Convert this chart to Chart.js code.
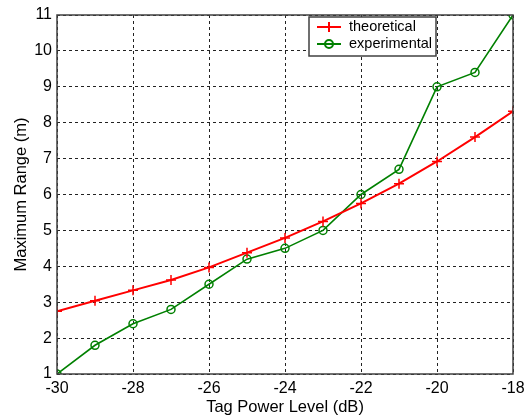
<!DOCTYPE html>
<html>
<head>
<meta charset="utf-8">
<script src="https://cdn.jsdelivr.net/npm/chart.js@4/dist/chart.umd.min.js"></script>
<style>
  html, body { margin: 0; padding: 0; background: #ffffff; }
  #wrap { width: 525px; height: 418px; }
</style>
</head>
<body>
<div id="wrap"><canvas id="rangeChart" width="525" height="418"></canvas></div>
<script>
// tag power level (dB)
var powerLevels = [-30, -29, -28, -27, -26, -25, -24, -23, -22, -21, -20, -19, -18];
var theoretical = [2.75, 3.04, 3.33, 3.62, 3.97, 4.38, 4.79, 5.25, 5.75, 6.3, 6.92, 7.6, 8.32];
var experimental = [1, 1.8, 2.4, 2.8, 3.5, 4.2, 4.5, 5, 6, 6.7, 9, 9.4, 11];
var xTicks = [-30, -28, -26, -24, -22, -20, -18];
var yTicks = [1, 2, 3, 4, 5, 6, 7, 8, 9, 10, 11];

function toPoints(xs, ys) {
    return xs.map(function(x, i) { return {x: x, y: ys[i]}; });
}

// matlab style box round the plot + legend in the corner
var boxPlugin = {
    id: 'boxPlugin',
    afterDatasetsDraw: function(chart) {
        var a = chart.chartArea, ctx = chart.ctx;
        ctx.save();
        ctx.strokeStyle = '#404040';
        ctx.lineWidth = 1.5;
        ctx.strokeRect(a.left, a.top, a.right - a.left, a.bottom - a.top);

        // legend
        var lx = 309, ly = 17, lw = 127, lh = 39;
        ctx.fillStyle = '#ffffff';
        ctx.fillRect(lx, ly, lw, lh);
        ctx.strokeStyle = '#404040';
        ctx.lineWidth = 1.5;
        ctx.strokeRect(lx, ly, lw, lh);
        ctx.font = '14.5px "Liberation Sans", Arial, sans-serif';
        ctx.textBaseline = 'middle';
        var rows = [
            {label: 'theoretical', color: '#ff0000', marker: 'cross'},
            {label: 'experimental', color: '#008000', marker: 'circle'}
        ];
        rows.forEach(function(r, i) {
            var cy = ly + 10 + i * 17;
            ctx.strokeStyle = r.color;
            ctx.lineWidth = 2;
            ctx.beginPath();
            ctx.moveTo(lx + 8, cy);
            ctx.lineTo(lx + 32, cy);
            ctx.stroke();
            ctx.beginPath();
            if (r.marker === 'cross') {
                ctx.moveTo(lx + 20, cy - 5); ctx.lineTo(lx + 20, cy + 5);
            } else {
                ctx.arc(lx + 20, cy, 4, 0, Math.PI * 2);
            }
            ctx.stroke();
            ctx.fillStyle = '#000000';
            ctx.fillText(r.label, lx + 40, cy);
        });
        ctx.restore();
    }
};

var ctx1 = document.getElementById('rangeChart').getContext('2d');
var myChart1 = new Chart(ctx1, {
    type: 'line',
    data: {
        datasets: [{
            label: 'theoretical',
            data: toPoints(powerLevels, theoretical),
            borderColor: '#ff0000',
            backgroundColor: '#ff0000',
            borderWidth: 2,
            pointStyle: 'cross',
            pointRadius: 5,
            pointBorderWidth: 1.5,
            tension: 0
        }, {
            label: 'experimental',
            data: toPoints(powerLevels, experimental),
            borderColor: '#008000',
            backgroundColor: 'rgba(0,0,0,0)',
            borderWidth: 1.6,
            pointStyle: 'circle',
            pointRadius: 4,
            pointBorderWidth: 1.5,
            tension: 0
        }]
    },
    options: {
        responsive: false,
        animation: false,
        layout: {
            padding: {left: 12, right: 12, top: 15, bottom: 1}
        },
        scales: {
            x: {
                type: 'linear',
                min: -30,
                max: -18,
                afterBuildTicks: function(s) { s.ticks = xTicks.map(function(v) { return {value: v}; }); },
                afterFit: function(s) { s.height = 43; s.paddingLeft = 0; s.paddingRight = 0; },
                grid: {
                    color: '#222222',
                    lineWidth: 1,
                    drawTicks: false
                },
                border: { display: false, dash: [3, 3] },
                ticks: {
                    color: '#000000',
                    padding: 5,
                    maxRotation: 0,
                    font: { family: '"Liberation Sans", Arial, sans-serif', size: 16 }
                },
                title: {
                    display: true,
                    text: 'Tag Power Level (dB)',
                    color: '#000000',
                    padding: 0,
                    font: { family: '"Liberation Sans", Arial, sans-serif', size: 16.5 }
                }
            },
            y: {
                type: 'linear',
                min: 1,
                max: 11,
                afterBuildTicks: function(s) { s.ticks = yTicks.map(function(v) { return {value: v}; }); },
                afterFit: function(s) { s.width = 45; s.paddingTop = 0; s.paddingBottom = 0; },
                grid: {
                    color: '#222222',
                    lineWidth: 1,
                    drawTicks: false
                },
                border: { display: false, dash: [3, 3] },
                ticks: {
                    color: '#000000',
                    padding: 5,
                    font: { family: '"Liberation Sans", Arial, sans-serif', size: 16 }
                },
                title: {
                    display: true,
                    text: 'Maximum Range (m)',
                    color: '#000000',
                    padding: 0,
                    font: { family: '"Liberation Sans", Arial, sans-serif', size: 16.5 }
                }
            }
        },
        plugins: {
            legend: { display: false },
            tooltip: { enabled: false }
        }
    },
    plugins: [boxPlugin]
});
</script>
</body>
</html>
